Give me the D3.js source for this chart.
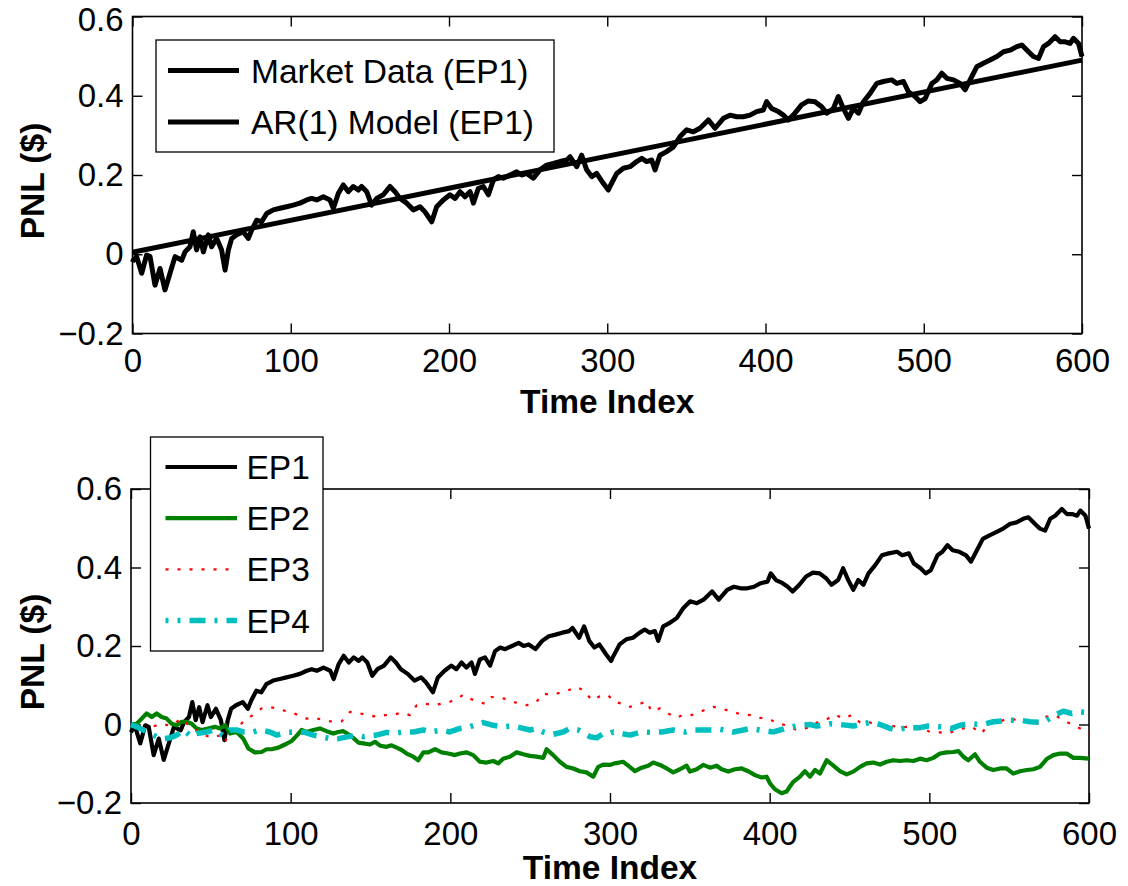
<!DOCTYPE html>
<html>
<head>
<meta charset="utf-8">
<script src="https://cdn.jsdelivr.net/npm/d3@7"></script>
<style>
  body { margin: 0; background: #fff; }
  svg { display: block; }
</style>
</head>
<body>
<div id="chart"></div>
<script>
// time index ticks and PNL ticks
var xTicks = [0, 100, 200, 300, 400, 500, 600];
var yTicks = [-0.2, 0, 0.2, 0.4, 0.6];

// EP1 market data (time index, PNL $)
var ep1 = [[0,-0.02],[0.5,-0.015],[2.6,-0.006],[5.8,-0.048],[8.9,-0.002],[11.1,-0.006],[14.2,-0.078],[17.4,-0.036],[20.5,-0.09],[23.7,-0.048],[26.9,-0.006],[31.1,-0.015],[33.2,0.006],[36.3,0.019],[38.4,0.057],[40.5,0.011],[42.7,0.044],[44.8,0.006],[47.9,0.049],[50,0.019],[53.2,0.04],[56.3,0.011],[58.5,-0.04],[60.6,0.011],[62.7,0.04],[65.8,0.049],[70,0.057],[73.2,0.04],[75.3,0.061],[78.5,0.086],[81.6,0.082],[84.8,0.103],[89,0.112],[93.2,0.116],[97.4,0.12],[101.6,0.124],[105.8,0.129],[110.1,0.137],[113.2,0.141],[116.4,0.137],[120.6,0.145],[124.8,0.137],[126.9,0.116],[130.1,0.154],[133.2,0.175],[136.4,0.158],[139.5,0.171],[142.7,0.162],[144.8,0.171],[148,0.158],[151.1,0.124],[154.3,0.141],[158.5,0.15],[162.7,0.171],[165.9,0.158],[169,0.141],[173.3,0.129],[177.5,0.112],[181.7,0.12],[184.8,0.107],[189.1,0.082],[192.2,0.12],[196.4,0.137],[200.6,0.15],[203.8,0.141],[207,0.158],[210.1,0.145],[213.3,0.158],[215.4,0.129],[218.5,0.166],[221.7,0.171],[224.9,0.15],[228,0.187],[231.2,0.196],[234.3,0.192],[238.6,0.2],[242.8,0.208],[245.9,0.2],[249.1,0.204],[253.3,0.192],[257.5,0.213],[261.7,0.225],[265.9,0.229],[270.1,0.234],[274.4,0.238],[276.5,0.246],[280.7,0.221],[283.8,0.25],[287,0.213],[290.2,0.196],[293.3,0.204],[297.5,0.179],[300.7,0.162],[301.7,0.171],[306,0.204],[310.2,0.217],[314.4,0.221],[318.6,0.234],[321.8,0.242],[324.9,0.234],[328.1,0.238],[330.2,0.213],[333.3,0.25],[337.5,0.259],[341.8,0.271],[346,0.297],[350.2,0.314],[354.4,0.309],[358.6,0.318],[363.9,0.339],[368.1,0.318],[373.4,0.343],[377.6,0.351],[381.8,0.347],[386,0.347],[390.2,0.351],[394.4,0.36],[398.6,0.364],[400.7,0.385],[403.9,0.368],[408.1,0.36],[411.3,0.351],[414.4,0.339],[418.6,0.356],[422.8,0.377],[427.1,0.387],[431.3,0.385],[435.5,0.372],[438.7,0.356],[442.9,0.368],[446,0.398],[449.2,0.368],[452.4,0.343],[455.5,0.368],[458.7,0.356],[461.9,0.385],[466.1,0.406],[470.3,0.431],[474.5,0.436],[479.8,0.44],[483,0.431],[487.2,0.436],[490.3,0.41],[494.5,0.398],[497.7,0.385],[500.9,0.393],[505.1,0.431],[508.2,0.44],[511.4,0.457],[514.6,0.444],[518.8,0.44],[523,0.431],[526.1,0.415],[529.3,0.44],[533.5,0.473],[537.7,0.482],[541.9,0.49],[546.2,0.499],[550.4,0.511],[554.6,0.515],[558.8,0.524],[562,0.528],[566.2,0.511],[569.3,0.499],[572.5,0.494],[575.7,0.524],[578.8,0.532],[583,0.549],[586.2,0.536],[589.4,0.536],[592.5,0.532],[594.6,0.545],[597.8,0.532],[600,0.499]];

// AR(1) model fit for EP1
var arModel = [[0,0.005],[600,0.49]];

// EP2
var ep2 = [[0,0],[3.6,0.002],[6.7,0.015],[9.8,0.028],[13,0.019],[16.1,0.028],[19.2,0.019],[22.3,0.015],[25.5,0.002],[28.6,-0.002],[31.7,0.007],[34.9,0.007],[38,0.002],[41.1,-0.01],[44.2,-0.014],[48.4,-0.01],[52.6,-0.006],[55.7,-0.01],[58.9,-0.002],[62,-0.023],[66.2,-0.019],[70.3,-0.036],[73.5,-0.061],[77.6,-0.071],[81.8,-0.07],[84.9,-0.063],[88.1,-0.063],[92.3,-0.059],[96.4,-0.051],[100.6,-0.042],[103.7,-0.029],[106.9,-0.014],[110,-0.019],[114.2,-0.014],[118.3,-0.01],[122.5,-0.017],[126.7,-0.023],[129.8,-0.019],[133,-0.017],[136.1,-0.025],[139.2,-0.034],[142.4,-0.046],[145.5,-0.048],[149.7,-0.051],[152.8,-0.044],[156,-0.054],[160.1,-0.057],[163.2,-0.053],[166.4,-0.059],[169.5,-0.065],[172.6,-0.074],[176.8,-0.082],[179.9,-0.091],[183.1,-0.071],[186.2,-0.071],[190.4,-0.063],[194.5,-0.071],[198.7,-0.074],[202.9,-0.078],[206,-0.074],[210.2,-0.071],[214.3,-0.078],[218.5,-0.095],[222.7,-0.097],[226.9,-0.093],[230,-0.099],[233.1,-0.087],[237.3,-0.082],[241.5,-0.071],[245.7,-0.076],[249.8,-0.08],[254,-0.082],[258.2,-0.085],[260.3,-0.063],[264.4,-0.078],[268.6,-0.095],[272.8,-0.108],[277,-0.112],[281.1,-0.119],[285.3,-0.122],[289.5,-0.133],[292.6,-0.108],[295.8,-0.102],[299.9,-0.103],[303.1,-0.099],[308.3,-0.095],[311.4,-0.105],[315.6,-0.119],[319.8,-0.11],[323.9,-0.105],[327.1,-0.097],[331.3,-0.103],[335.5,-0.112],[339.6,-0.122],[343.8,-0.114],[348,-0.105],[350.1,-0.12],[354.3,-0.114],[358.4,-0.103],[362.6,-0.11],[366.8,-0.105],[369.9,-0.114],[374.1,-0.12],[378.3,-0.114],[382.5,-0.112],[386.6,-0.119],[390.8,-0.129],[395,-0.135],[398.1,-0.133],[400.2,-0.15],[403.3,-0.165],[407.5,-0.175],[410.6,-0.171],[412.7,-0.158],[414.8,-0.146],[419,-0.133],[422.1,-0.119],[425.2,-0.133],[428.4,-0.116],[431.5,-0.125],[435.7,-0.091],[439.9,-0.105],[444,-0.119],[448.2,-0.127],[452.4,-0.12],[456.6,-0.108],[460.7,-0.099],[464.9,-0.097],[469.1,-0.102],[473.3,-0.095],[477.4,-0.091],[481.6,-0.093],[485.8,-0.091],[490,-0.093],[494.2,-0.087],[498.3,-0.091],[502.5,-0.085],[506.7,-0.074],[510.8,-0.071],[515,-0.07],[518.2,-0.068],[521.3,-0.082],[524.4,-0.091],[528.6,-0.076],[531.7,-0.095],[535.9,-0.11],[540.1,-0.116],[544.3,-0.112],[548.4,-0.112],[552.6,-0.125],[556.8,-0.119],[561,-0.116],[565.2,-0.114],[569.3,-0.108],[573.5,-0.088],[577.7,-0.078],[581.9,-0.074],[586,-0.074],[590.2,-0.085],[594.4,-0.085],[600,-0.087]];

// EP3
var ep3 = [[0,0],[2.6,0],[6.7,-0.01],[13,-0.006],[19.2,0.002],[23.3,-0.002],[27.5,0.002],[30.7,0.015],[34.9,0.002],[39,-0.01],[43.2,-0.019],[47.4,-0.029],[51.6,-0.034],[55.7,-0.027],[58.9,-0.044],[62,-0.019],[66.2,-0.01],[70.3,0.007],[74.5,0.019],[78.7,0.032],[81.8,0.041],[86,0.045],[91.2,0.041],[95.4,0.036],[99.6,0.032],[104.8,0.024],[110,0.015],[115.2,0.017],[120.4,0.011],[126.7,0.007],[131.9,0.008],[137.1,0.032],[143.4,0.028],[148.6,0.025],[153.8,0.019],[159.1,0.024],[164.3,0.025],[169.5,0.03],[174.8,0.024],[178.9,0.049],[184.2,0.053],[189.4,0.049],[194.5,0.053],[199.7,0.058],[203.9,0.064],[208.1,0.076],[212.2,0.066],[217.5,0.058],[221.7,0.053],[225.8,0.07],[231,0.068],[236.3,0.064],[242.5,0.053],[247.8,0.049],[254,0.058],[258.2,0.079],[263.4,0.075],[268.6,0.081],[273.8,0.087],[279.1,0.096],[284.3,0.085],[288.5,0.062],[293.7,0.072],[298.9,0.075],[302,0.059],[307.3,0.053],[312.5,0.045],[317.7,0.051],[322.9,0.059],[326,0.034],[331.3,0.041],[336.5,0.028],[341.7,0.017],[345.9,0.025],[351.1,0.024],[356.4,0.032],[360.5,0.039],[364.7,0.045],[371,0.039],[377.2,0.032],[382.5,0.025],[388.7,0.024],[394,0.017],[400.2,0.013],[405.4,0.002],[410.6,-0.002],[416.9,-0.014],[424.2,-0.008],[430.5,0.007],[435.7,0.013],[440.9,0.025],[446.2,0.015],[451.4,0.024],[456.6,0.005],[461.8,0.007],[467.1,-0.002],[472.3,0],[477.5,-0.004],[482.7,-0.008],[489,-0.004],[495.2,-0.008],[500.4,-0.019],[506.7,-0.02],[511.9,-0.023],[517.1,-0.014],[521.3,-0.01],[526.5,-0.006],[532.8,-0.023],[538,0.007],[544.3,0.008],[550.5,0.017],[556.8,0.007],[563,0.008],[567.2,0.002],[572.4,0.019],[578.7,0.024],[583.9,0.011],[590.2,-0.002],[596.4,-0.014],[600,-0.023]];

// EP4
var ep4 = [[0,0],[3.6,-0.006],[7.7,-0.014],[11.9,-0.023],[16.1,-0.031],[20.2,-0.036],[24.4,-0.034],[28.6,-0.027],[32.8,-0.014],[38,-0.031],[41.1,-0.023],[47.4,-0.019],[52.6,-0.014],[57.8,-0.029],[62,-0.014],[66.2,-0.014],[70.3,-0.019],[75.6,-0.02],[80.8,-0.014],[87,-0.019],[91.2,-0.027],[97.5,-0.02],[103.7,-0.019],[108.9,-0.02],[114.2,-0.027],[119.4,-0.031],[124.6,-0.036],[129.8,-0.036],[136.1,-0.031],[141.3,-0.027],[145.5,-0.031],[153.8,-0.027],[160.1,-0.02],[164.3,-0.023],[170.5,-0.019],[176.8,-0.019],[183.1,-0.014],[187.2,-0.019],[194.5,-0.014],[199.7,-0.019],[206,-0.01],[212.2,-0.006],[217.5,0.002],[220.6,0.005],[226.9,-0.002],[233.1,-0.006],[238.4,-0.004],[243.6,-0.008],[249.8,-0.014],[254,-0.01],[258.2,-0.019],[264.4,-0.025],[270.7,-0.019],[274.9,-0.01],[280.1,-0.014],[287.4,-0.031],[291.6,-0.034],[295.8,-0.023],[299.9,-0.023],[302,-0.019],[307.3,-0.023],[312.5,-0.027],[319.8,-0.019],[326,-0.02],[332.4,-0.019],[339.6,-0.014],[346.9,-0.019],[352.2,-0.014],[363.6,-0.014],[368.9,-0.012],[377.2,-0.019],[383.5,-0.014],[387.7,-0.01],[394,-0.014],[402.3,-0.019],[406.5,-0.014],[409.6,-0.01],[419,-0.002],[425.2,0],[429.4,-0.004],[437.8,0.002],[444,0],[452.4,-0.004],[458.7,0.002],[462.8,0.005],[469.1,0],[475.4,-0.01],[479.5,-0.014],[485.8,-0.008],[494.2,-0.008],[499.4,-0.004],[506.7,-0.006],[514,-0.01],[519.2,-0.002],[525.5,0.002],[533.8,0],[540.1,0.007],[550.5,0.011],[556.8,0.011],[563,0.007],[571.4,0.005],[577.7,0.022],[583.9,0.034],[589.2,0.028],[594.4,0.032],[600,0.03]];

var topLegend = ["Market Data (EP1)", "AR(1) Model (EP1)"];
var bottomLegend = ["EP1", "EP2", "EP3", "EP4"];

;(function () {
    var W = 1128, H = 886;
    var font = '"Liberation Sans", Arial, Helvetica, sans-serif';
    var fs = 33;

    var svg = d3.select("#chart").append("svg")
        .attr("width", W).attr("height", H)
        .style("font-family", font);

    function panel(box, xLabelDy) {
        var x = d3.scaleLinear().domain([0, 600]).range([box.l, box.r]);
        var y = d3.scaleLinear().domain([-0.2, 0.6]).range([box.b, box.t]);
        var g = svg.append("g");
        var fmt = function (d) { return d3.format("")(d); };

        var ax = [
            { a: d3.axisBottom(x).tickValues(xTicks).tickFormat(fmt), tr: [0, box.b], side: "b" },
            { a: d3.axisTop(x).tickValues(xTicks).tickFormat(""), tr: [0, box.t], side: "t" },
            { a: d3.axisLeft(y).tickValues(yTicks).tickFormat(fmt), tr: [box.l, 0], side: "l" },
            { a: d3.axisRight(y).tickValues(yTicks).tickFormat(""), tr: [box.r, 0], side: "r" }
        ];
        ax.forEach(function (o) {
            var s = g.append("g")
                .attr("transform", "translate(" + o.tr[0] + "," + o.tr[1] + ")")
                .call(o.a.tickSizeInner(-10).tickSizeOuter(0).tickPadding(9));
            s.select(".domain").remove();
            s.selectAll(".tick line").attr("stroke", "#000").attr("stroke-width", 1.4);
            s.selectAll(".tick text")
                .attr("fill", "#000")
                .style("font-size", fs + "px")
                .style("font-family", font);
            if (o.side === "b") s.selectAll(".tick text").attr("dy", xLabelDy);
            if (o.side === "l") {
                // keep the top label inside the page
                s.selectAll(".tick text").filter(function (d) { return d === 0.6; })
                    .attr("dy", box.t < 30 ? "0.42em" : "0.32em");
            }
        });

        g.append("rect")
            .attr("x", box.l).attr("y", box.t)
            .attr("width", box.r - box.l).attr("height", box.b - box.t)
            .attr("fill", "none").attr("stroke", "#000").attr("stroke-width", 1.6);

        var line = d3.line()
            .x(function (d) { return x(d[0]); })
            .y(function (d) { return y(d[1]); });

        return { g: g, x: x, y: y, line: line };
    }

    function axisTitles(box, xBase) {
        svg.append("text")
            .attr("x", (box.l + box.r) / 2).attr("y", xBase)
            .attr("text-anchor", "middle")
            .style("font-size", "33.5px").style("font-weight", "bold")
            .text("Time Index");
        svg.append("text")
            .attr("transform", "translate(44," + ((box.t + box.b) / 2 + 6) + ") rotate(-90)")
            .attr("text-anchor", "middle")
            .style("font-size", "33.5px").style("font-weight", "bold")
            .text("PNL ($)");
    }

    // ---- top panel
    var topBox = { l: 132.5, r: 1082, t: 16.5, b: 333.5 };
    var p1 = panel(topBox, "0.9em");
    p1.g.append("path").datum(arModel)
        .attr("d", p1.line).attr("fill", "none")
        .attr("stroke", "#000").attr("stroke-width", 5);
    p1.g.append("path").datum(ep1)
        .attr("d", p1.line).attr("fill", "none")
        .attr("stroke", "#000").attr("stroke-width", 5)
        .attr("stroke-linejoin", "round");
    axisTitles(topBox, 413);

    var lg1 = svg.append("g");
    lg1.append("rect").attr("x", 156).attr("y", 40).attr("width", 398).attr("height", 112)
        .attr("fill", "#fff").attr("stroke", "#000").attr("stroke-width", 1.3);
    lg1.selectAll("g.item").data(topLegend).enter().append("g")
        .each(function (d, i) {
            var yy = 70.5 + i * 51.5;
            var it = d3.select(this);
            it.append("line").attr("x1", 168).attr("x2", 239).attr("y1", yy).attr("y2", yy)
                .attr("stroke", "#000").attr("stroke-width", 5);
            it.append("text").attr("x", 251).attr("y", yy + 12)
                .style("font-size", "33.5px").text(d);
        });

    // ---- bottom panel
    var botBox = { l: 131, r: 1089, t: 489, b: 803 };
    var p2 = panel(botBox, "1.0em");
    var styles = [
        { data: ep1, color: "#000", w: 4.2, dash: null },
        { data: ep2, color: "#008000", w: 4.2, dash: null },
        { data: ep3, color: "#ff0000", w: 2.2, dash: "3,9" },
        { data: ep4, color: "#00bfbf", w: 5.5, dash: "16,9,3,9" }
    ];
    styles.forEach(function (s) {
        p2.g.append("path").datum(s.data)
            .attr("d", p2.line).attr("fill", "none")
            .attr("stroke", s.color).attr("stroke-width", s.w)
            .attr("stroke-linejoin", "round")
            .attr("stroke-dasharray", s.dash);
    });
    axisTitles(botBox, 879);

    var lg2 = svg.append("g");
    lg2.append("rect").attr("x", 150.5).attr("y", 437).attr("width", 172.5).attr("height", 214)
        .attr("fill", "#fff").attr("stroke", "#000").attr("stroke-width", 1.3);
    lg2.selectAll("g.item").data(bottomLegend).enter().append("g")
        .each(function (d, i) {
            var yy = 467 + i * 51.2;
            var s = styles[i];
            var it = d3.select(this);
            it.append("line").attr("x1", 165.5).attr("x2", 237).attr("y1", yy).attr("y2", yy)
                .attr("stroke", s.color).attr("stroke-width", s.w)
                .attr("stroke-dasharray", s.dash)
                .attr("stroke-dashoffset", i === 3 ? 13 : 0);
            it.append("text").attr("x", 246.5).attr("y", yy + 12)
                .style("font-size", "33.5px").text(d);
        });
})();
</script>
</body>
</html>
